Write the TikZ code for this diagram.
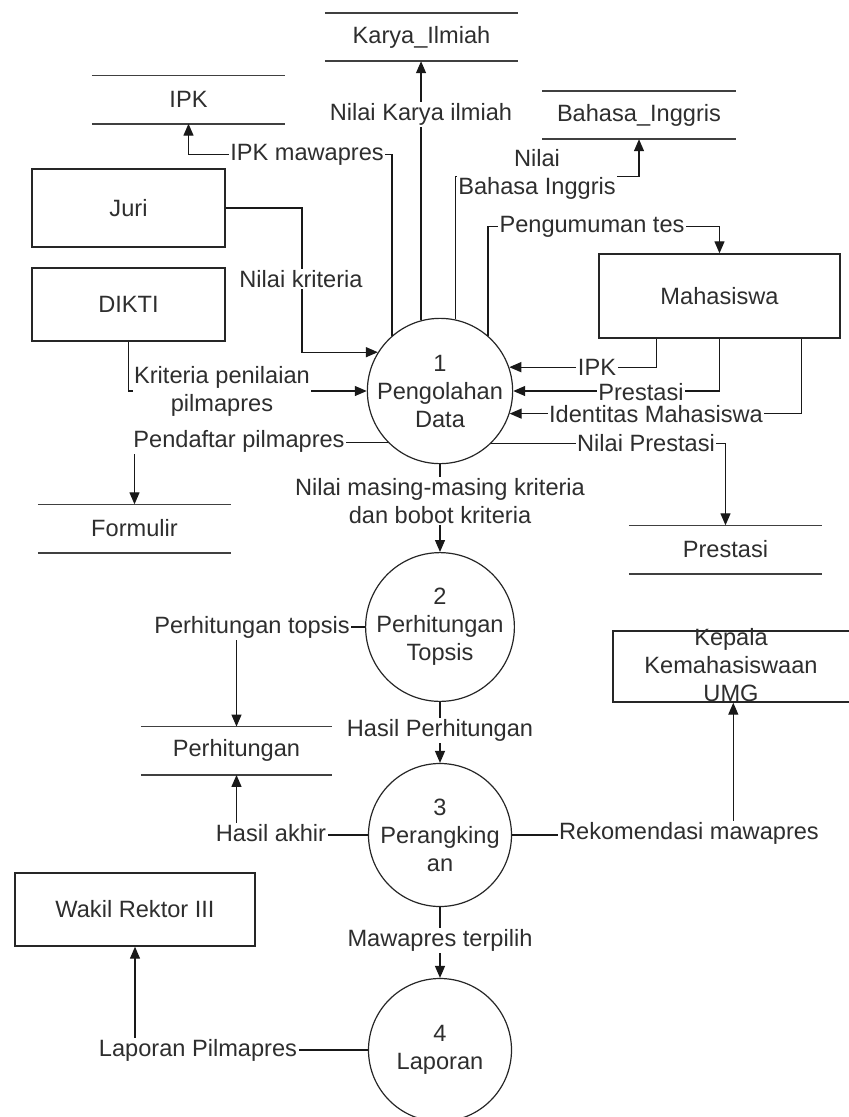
\documentclass[tikz,border=0pt]{standalone}
\usepackage{fontspec}
\setmainfont{Liberation Sans}
\usetikzlibrary{arrows.meta,calc}
\begin{document}
\begin{tikzpicture}[x=1pt,y=-1pt,
  font=\fontsize{23.6}{28}\selectfont, text=black!82,
  ent/.style={draw=black!85, line width=1.4pt, inner sep=0pt},
  proc/.style={draw=black!85, circle, line width=1.2pt, minimum size=143pt, inner sep=0pt, align=center},
  store/.style={minimum width=193pt, minimum height=48pt, inner sep=0pt},
  storeline/.style={line width=1.6pt, draw=black!75},
  flow/.style={line width=1.3pt, draw=black!90, -{Triangle[width=10pt,length=12pt]}},
  lbl/.style={fill=white, inner sep=1.5pt, align=center}]
\useasboundingbox (0,0) rectangle (849,1117);

% external entities
\node[ent, minimum width=193pt, minimum height=78pt] (juri) at (128.5,208) {Juri};
\node[ent, minimum width=193pt, minimum height=73pt] (dikti) at (128.5,304.5) {DIKTI};
\node[ent, minimum width=241pt, minimum height=84pt] (maha) at (719.5,296) {Mahasiswa};
\node[ent, minimum width=270pt, minimum height=71pt] (kepala) at (748,666.5) {};
\node[align=center, inner sep=0pt] (kepalatxt) at (731,665) {Kepala\\Kemahasiswaan\\UMG};
\node[ent, minimum width=240pt, minimum height=73pt] (wakil) at (135,909.5) {Wakil Rektor III};
\coordinate (kepin) at ($(kepala.south west)+(121,0)$);

% data stores
\node[store] (karya) at (421.5,37) {Karya\_Ilmiah};
\node[store] (ipk) at (188.5,99.5) {IPK};
\node[store] (bahasa) at (639,115) {Bahasa\_Inggris};
\node[store] (form) at (134.5,528.5) {Formulir};
\node[store] (prest) at (725.5,549.5) {Prestasi};
\node[store, minimum width=191pt] (hit) at (236.5,750.75) {Perhitungan};
\foreach \s in {karya,ipk,bahasa,form,prest,hit}{
  \draw[storeline] (\s.north west) -- (\s.north east) (\s.south west) -- (\s.south east);
}

% processes
\node[proc] (P1) at (440,391) {1\\Pengolahan\\Data};
\node[proc] (P2) at (440,627) {2\\Perhitungan\\Topsis};
\node[proc] (P3) at (440,835) {3\\Perangking\\an};
\node[proc] (P4) at (440,1050) {4\\Laporan};

% flows
\draw[flow] (P1.131.8) |- ($(ipk.south)+(0,31)$) -- (ipk.south);
\draw[flow] (P1.105.3) -- (P1.105.3 |- karya.south);
\draw[flow] (P1.78.8) |- ($(bahasa.south)+(0,37)$) -- (bahasa.south);
\draw[flow] (P1.49.2) |- ($(maha.north)+(0,-27)$) -- (maha.north);
\draw[flow] (juri.east) -| ($(P1.148.2)+(-76,0)$) -- (P1.148.2);
\draw[flow] (dikti.south) |- (P1.west);
\draw[flow] ($(maha.south west)+(58,0)$) |- (P1.19.5);
\draw[flow] (maha.south) |- (P1.east);
\draw[flow] ($(maha.south east)+(-39,0)$) |- (P1.-18.6);
\draw[flow] (P1.225.1) -| (form.north);
\draw[flow] (P1.-46.2) -| (prest.north);
\draw[flow] (P1.south) -- (P2.north);
\draw[flow] (P2.west) -| (hit.north);
\draw[flow] (P2.south) -- (P3.north);
\draw[flow] (P3.west) -| (hit.south);
\draw[flow] (P3.east) -| (kepin);
\draw[flow] (P3.south) -- (P4.north);
\draw[flow] (P4.west) -| (wakil.south);

% flow labels
\node[lbl] (l1) at (307,155) {IPK mawapres};
\node[lbl] (l2) at (421,114) {Nilai Karya ilmiah};
\node[lbl] (l3) at (537,174) {Nilai\\Bahasa Inggris};
\node[lbl] (l4) at (592,227) {Pengumuman tes};
\node[lbl] (l5) at (301,279) {Nilai kriteria};
\node[lbl] (l6) at (222,391) {Kriteria penilaian\\pilmapres};
\node[lbl] (l7) at (597,367) {IPK};
\node[lbl] (l8) at (641,392) {Prestasi};
\node[lbl] (l9) at (656,414) {Identitas Mahasiswa};
\node[lbl] (l10) at (239,441) {Pendaftar pilmapres};
\node[lbl] (l11) at (646,443) {Nilai Prestasi};
\node[lbl] (l12) at (440,501) {Nilai masing-masing kriteria\\dan bobot kriteria};
\node[lbl] (l13) at (252,627) {Perhitungan topsis};
\node[lbl] (l14) at (440,730) {Hasil Perhitungan};
\node[lbl] (l15) at (271,833) {Hasil akhir};
\node[lbl] (l16) at (689,833) {Rekomendasi mawapres};
\node[lbl] (l17) at (440,940) {Mawapres terpilih};
\node[lbl] (l18) at (198,1050) {Laporan Pilmapres};
\end{tikzpicture}
\end{document}
